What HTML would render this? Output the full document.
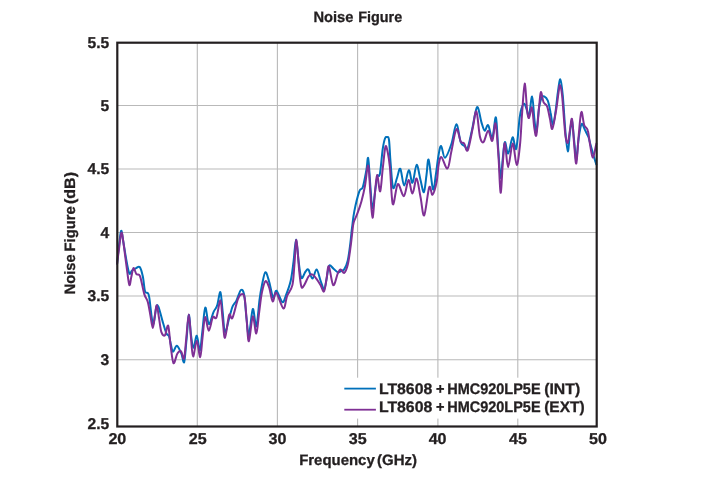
<!DOCTYPE html>
<html lang="en">
<head>
<meta charset="utf-8">
<title>Noise Figure</title>
<style>
html,body{margin:0;padding:0;background:#fff;}
body{width:704px;height:477px;overflow:hidden;}
svg{display:block;}
text{font-family:"Liberation Sans",sans-serif;font-weight:bold;font-size:15px;fill:#231f20;stroke:#231f20;stroke-width:0.3px;text-rendering:geometricPrecision;}
.lg text{font-size:15.3px;}
.yl text,.xl text{font-size:15.6px;}
.grid line{stroke:#b9b9b9;stroke-width:1.1;}
</style>
</head>
<body>
<svg width="704" height="477" viewBox="0 0 704 477">
<rect x="0" y="0" width="704" height="477" fill="#fff"/>
<g class="grid"><line x1="197.3" y1="42.7" x2="197.3" y2="426.5"/><line x1="277.4" y1="42.7" x2="277.4" y2="426.5"/><line x1="357.6" y1="42.7" x2="357.6" y2="426.5"/><line x1="437.9" y1="42.7" x2="437.9" y2="426.5"/><line x1="517.8" y1="42.7" x2="517.8" y2="426.5"/><line x1="117.3" y1="105.45" x2="596.7" y2="105.45"/><line x1="117.3" y1="169.0" x2="596.7" y2="169.0"/><line x1="117.3" y1="232.45" x2="596.7" y2="232.45"/><line x1="117.3" y1="296.0" x2="596.7" y2="296.0"/><line x1="117.3" y1="359.7" x2="596.7" y2="359.7"/></g>
<rect x="340" y="377.7" width="256" height="40.9" fill="#fff"/>
<path d="M117.0,264.5C117.3,261.4 118.3,251.6 119.0,246.0C119.7,240.4 120.4,231.8 121.1,230.8C121.8,229.8 122.2,235.5 123.0,240.0C123.8,244.5 125.0,252.4 126.0,258.0C127.0,263.6 128.3,271.3 129.3,273.4C130.3,275.5 130.9,271.3 132.0,270.5C133.1,269.7 134.4,269.0 135.7,268.4C137.0,267.8 138.5,265.7 139.7,267.0C140.9,268.3 141.9,272.3 142.8,276.3C143.7,280.3 144.2,288.4 145.0,291.2C145.8,294.0 147.1,292.0 147.8,293.1C148.5,294.2 148.4,292.6 149.3,297.7C150.2,302.8 151.8,322.4 153.0,324.0C154.2,325.6 155.4,309.9 156.3,307.0C157.2,304.1 157.4,304.3 158.5,306.8C159.6,309.3 161.5,317.7 162.8,322.1C164.1,326.6 165.4,331.2 166.4,333.5C167.4,335.8 168.2,334.1 169.0,336.0C169.8,337.9 170.3,342.4 171.0,345.0C171.7,347.6 172.1,351.7 173.1,351.8C174.1,351.9 175.4,345.4 176.8,345.7C178.2,346.0 180.2,350.8 181.4,353.5C182.6,356.2 183.3,364.4 184.2,362.1C185.0,359.9 185.7,347.9 186.5,340.0C187.3,332.1 188.1,315.8 188.8,315.0C189.6,314.2 190.2,329.5 191.0,335.0C191.8,340.5 192.5,347.7 193.5,347.8C194.5,347.9 195.7,335.2 196.8,335.7C197.9,336.2 199.0,351.6 199.9,350.6C200.8,349.7 201.6,337.2 202.5,330.0C203.4,322.8 204.2,308.6 205.3,307.6C206.4,306.6 207.4,323.2 208.8,324.0C210.2,324.8 212.1,315.2 213.5,312.1C214.9,309.1 215.9,309.0 217.1,305.7C218.2,302.4 219.5,291.1 220.4,292.1C221.3,293.2 221.9,305.4 222.7,312.0C223.5,318.6 223.8,331.2 225.0,332.0C226.2,332.8 228.3,320.8 229.6,316.5C230.9,312.2 231.5,309.0 232.6,306.4C233.7,303.8 235.0,303.4 236.4,300.7C237.8,298.0 239.6,290.9 240.9,290.0C242.2,289.1 243.3,290.3 244.2,295.0C245.1,299.7 245.7,311.3 246.5,318.0C247.3,324.7 247.8,336.5 248.9,335.0C250.0,333.5 251.6,310.4 252.8,309.0C254.0,307.6 255.2,327.9 256.3,326.4C257.4,324.9 258.6,306.9 259.5,300.0C260.4,293.1 261.0,289.6 262.0,285.0C263.0,280.4 264.2,272.7 265.4,272.2C266.6,271.7 268.0,277.9 269.3,282.2C270.6,286.5 272.0,296.4 273.2,297.8C274.4,299.2 274.9,290.0 276.4,290.7C277.9,291.4 280.8,301.2 282.3,302.1C283.9,303.0 284.3,299.6 285.7,296.0C287.1,292.4 289.4,286.5 290.7,280.8C292.0,275.1 292.6,268.9 293.5,262.0C294.4,255.1 295.2,239.4 296.1,239.4C297.0,239.4 297.8,255.6 298.7,262.0C299.6,268.4 300.2,276.3 301.4,277.9C302.5,279.5 304.4,272.9 305.6,271.5C306.8,270.1 307.4,268.6 308.5,269.8C309.6,271.0 311.1,278.7 312.5,278.6C313.9,278.5 315.2,269.0 316.6,269.4C318.0,269.8 319.3,277.5 320.6,280.8C321.9,284.1 323.2,289.8 324.2,289.3C325.2,288.8 325.9,281.9 326.7,278.0C327.5,274.1 328.1,267.4 329.2,265.8C330.3,264.2 332.1,267.6 333.5,268.7C334.9,269.8 336.4,271.8 337.7,272.2C338.9,272.6 339.9,271.5 341.0,271.0C342.1,270.5 343.1,271.1 344.2,269.4C345.3,267.7 346.7,265.1 347.7,260.8C348.7,256.5 349.6,249.2 350.3,243.7C351.0,238.2 351.3,233.4 352.0,228.0C352.7,222.6 353.1,217.5 354.3,211.4C355.5,205.3 357.9,195.5 359.3,191.4C360.7,187.3 361.6,190.7 362.8,187.1C364.0,183.5 365.5,174.8 366.4,170.0C367.3,165.2 367.5,155.7 368.2,158.2C368.9,160.7 369.6,176.7 370.3,185.0C371.0,193.3 371.6,207.5 372.5,208.0C373.4,208.5 374.7,193.3 375.5,188.0C376.3,182.7 376.8,178.3 377.5,176.0C378.2,173.7 379.0,178.5 379.9,173.9C380.8,169.3 381.9,154.4 382.8,148.5C383.7,142.6 384.3,140.4 385.0,138.5C385.7,136.6 386.4,136.8 387.1,137.1C387.8,137.3 388.4,135.7 389.0,140.0C389.6,144.3 389.9,154.8 390.6,162.8C391.3,170.8 392.0,185.3 393.1,187.8C394.2,190.3 395.8,181.2 397.0,178.0C398.2,174.8 399.1,167.5 400.3,168.8C401.5,170.1 402.8,185.4 404.2,185.6C405.6,185.8 407.4,170.7 408.8,170.2C410.2,169.7 411.2,183.7 412.5,182.8C413.8,181.9 415.3,165.4 416.6,164.9C417.9,164.4 419.3,175.5 420.5,180.0C421.7,184.5 422.9,192.9 423.9,192.1C424.9,191.3 425.7,180.4 426.5,175.0C427.3,169.6 427.6,157.5 428.7,159.9C429.8,162.3 431.8,186.8 433.0,189.3C434.2,191.8 434.9,180.6 435.8,175.0C436.7,169.4 437.5,160.8 438.4,156.0C439.3,151.2 440.0,145.6 441.1,145.9C442.2,146.2 443.3,158.0 445.0,157.7C446.7,157.4 449.5,149.6 451.4,144.0C453.3,138.4 454.8,124.5 456.4,124.2C457.9,123.9 459.3,138.4 460.7,142.1C462.1,145.8 463.8,145.3 464.9,146.4C466.0,147.5 466.3,151.2 467.5,148.5C468.7,145.8 470.4,136.9 472.0,130.0C473.6,123.1 475.5,108.4 477.1,107.1C478.7,105.8 480.1,118.2 481.4,122.1C482.6,126.0 483.5,130.2 484.6,130.7C485.7,131.2 486.9,124.0 488.2,125.2C489.5,126.4 491.0,139.1 492.3,137.8C493.6,136.5 494.9,115.5 495.9,117.5C496.9,119.5 497.5,139.9 498.3,150.0C499.1,160.1 499.9,176.5 500.6,177.8C501.4,179.1 502.1,164.0 502.8,158.0C503.5,152.0 504.0,142.8 504.9,142.0C505.8,141.2 506.9,154.3 508.2,153.5C509.5,152.7 511.3,138.1 512.6,137.3C513.9,136.5 515.0,151.9 516.2,148.7C517.4,145.5 518.7,124.7 519.6,118.0C520.5,111.3 520.7,110.9 521.5,108.5C522.3,106.1 523.4,103.5 524.3,103.7C525.2,104.0 526.0,108.0 526.8,110.0C527.6,112.0 528.1,118.3 529.0,116.0C529.9,113.7 531.2,96.1 532.1,96.4C533.0,96.7 533.6,112.1 534.3,118.0C535.0,123.9 535.6,133.7 536.4,132.0C537.2,130.3 538.1,113.7 539.0,108.0C539.9,102.3 540.6,99.9 541.5,98.0C542.4,96.1 543.2,96.0 544.2,96.4C545.2,96.9 546.7,98.0 547.8,100.7C548.9,103.4 549.8,108.8 550.6,112.8C551.5,116.8 552.1,125.1 552.9,125.0C553.7,124.9 554.7,117.4 555.5,112.0C556.3,106.6 557.0,98.2 557.8,92.8C558.6,87.3 559.5,78.8 560.3,79.3C561.1,79.8 562.0,87.2 562.8,95.7C563.6,104.2 564.5,120.7 565.3,130.0C566.1,139.3 567.0,151.1 567.8,151.4C568.6,151.7 569.3,137.1 570.0,132.0C570.7,126.9 571.3,119.3 572.0,121.0C572.7,122.7 573.6,135.5 574.3,142.0C575.0,148.5 575.6,160.7 576.3,160.0C577.0,159.3 577.8,144.0 578.7,138.0C579.6,132.0 580.6,125.3 581.6,124.0C582.6,122.7 583.8,127.7 584.9,129.9C586.0,132.1 587.4,134.5 588.4,137.0C589.4,139.5 589.6,141.4 590.6,144.9C591.6,148.4 593.2,154.5 594.2,157.8C595.2,161.2 596.1,163.8 596.5,165.0" fill="none" stroke="#0070ba" stroke-width="2" stroke-linejoin="round" stroke-linecap="butt"/>
<path d="M117.0,264.5C117.3,261.9 118.3,254.3 119.0,249.0C119.7,243.7 120.7,233.7 121.4,232.7C122.2,231.7 122.7,237.4 123.5,243.0C124.3,248.6 125.5,259.0 126.5,266.0C127.5,273.0 128.5,283.0 129.3,284.8C130.1,286.6 130.6,279.8 131.3,277.0C132.0,274.2 132.7,268.5 133.5,268.0C134.3,267.5 135.3,272.8 136.4,274.1C137.5,275.5 138.7,272.8 140.0,276.1C141.3,279.4 143.0,289.8 144.3,294.1C145.6,298.4 146.8,298.2 147.8,301.9C148.8,305.5 149.7,311.7 150.5,316.0C151.3,320.3 152.1,327.9 152.8,327.9C153.5,327.9 154.1,319.8 154.8,316.0C155.5,312.2 156.1,304.9 156.8,305.2C157.5,305.5 158.2,313.5 159.0,318.0C159.8,322.5 160.4,329.2 161.4,332.1C162.4,335.0 163.9,336.3 165.0,335.2C166.1,334.1 167.2,323.8 168.2,325.7C169.1,327.6 169.8,340.1 170.7,346.4C171.6,352.6 172.4,362.0 173.5,363.2C174.6,364.4 176.1,355.5 177.4,353.5C178.7,351.5 180.0,350.6 181.1,351.4C182.2,352.2 183.1,360.7 184.0,358.5C184.9,356.3 185.5,345.4 186.3,338.0C187.1,330.6 188.0,314.3 188.8,314.3C189.6,314.3 190.3,331.0 191.0,338.0C191.7,345.0 192.1,355.9 193.1,356.4C194.1,356.8 195.6,340.6 196.8,340.7C198.0,340.8 199.2,357.6 200.2,357.1C201.1,356.7 201.7,344.7 202.5,338.0C203.3,331.3 204.0,318.3 205.1,317.1C206.2,315.9 207.5,330.7 208.8,330.7C210.1,330.7 211.5,319.5 212.8,317.3C214.1,315.1 215.1,320.3 216.4,317.5C217.7,314.7 219.4,300.0 220.4,300.4C221.4,300.8 221.9,313.8 222.7,320.0C223.5,326.2 223.9,338.6 225.0,337.8C226.1,337.0 227.9,318.3 229.1,315.0C230.3,311.7 230.9,320.6 232.4,318.0C233.9,315.4 236.3,303.2 237.8,299.3C239.3,295.4 240.3,294.6 241.4,294.3C242.5,294.1 243.7,293.2 244.6,297.8C245.5,302.4 246.1,314.8 246.8,322.0C247.5,329.2 247.9,342.2 248.9,341.3C249.9,340.4 251.6,317.7 252.8,316.4C254.0,315.1 255.2,334.2 256.3,333.5C257.4,332.8 258.2,318.9 259.2,312.0C260.1,305.1 260.9,297.2 262.0,292.1C263.1,287.0 264.4,281.9 265.6,281.2C266.8,280.5 268.1,284.5 269.3,287.9C270.5,291.3 271.5,300.6 272.7,301.4C273.9,302.2 274.5,291.6 276.3,292.8C278.1,294.0 281.6,308.0 283.4,308.5C285.2,309.0 285.6,299.9 287.1,296.0C288.6,292.1 291.2,290.3 292.4,285.1C293.6,279.9 293.7,272.5 294.4,265.0C295.1,257.5 295.6,239.1 296.4,240.1C297.2,241.1 298.4,263.0 299.2,270.8C300.0,278.6 300.6,284.4 301.4,286.8C302.2,289.2 303.0,286.8 304.2,285.1C305.4,283.4 307.2,278.3 308.5,276.5C309.8,274.7 310.8,274.0 312.1,274.4C313.4,274.8 314.9,276.8 316.3,278.6C317.7,280.4 319.3,283.0 320.6,285.1C321.9,287.2 322.9,292.4 323.9,291.5C324.9,290.6 325.6,284.2 326.4,280.0C327.2,275.8 327.7,265.3 328.8,266.2C329.9,267.1 331.7,283.9 333.2,285.1C334.7,286.3 336.5,276.2 337.7,273.6C338.9,271.0 339.5,269.5 340.6,269.4C341.7,269.3 343.0,273.6 344.2,272.9C345.4,272.2 346.6,269.5 347.7,265.1C348.8,260.7 349.9,251.8 350.6,246.5C351.4,241.2 351.7,236.9 352.2,233.0C352.7,229.1 352.8,225.9 353.6,222.8C354.4,219.7 355.8,217.8 357.1,214.2C358.4,210.6 360.1,206.2 361.4,201.4C362.7,196.7 363.9,191.7 365.0,185.7C366.1,179.7 367.3,164.5 368.2,165.6C369.1,166.7 369.6,183.3 370.3,192.0C371.0,200.7 371.7,217.5 372.5,217.8C373.3,218.1 374.1,201.1 374.9,194.0C375.7,186.9 376.2,175.4 377.1,175.0C378.0,174.6 379.2,192.6 380.2,191.4C381.1,190.2 381.9,175.4 382.8,168.0C383.7,160.6 384.6,149.5 385.4,146.8C386.2,144.1 386.9,148.6 387.7,152.0C388.4,155.4 389.0,158.4 389.9,167.1C390.8,175.8 391.5,201.4 392.8,204.2C394.1,207.0 396.0,185.4 397.8,184.1C399.6,182.8 402.1,196.8 403.9,196.1C405.7,195.4 407.1,180.4 408.5,180.0C409.9,179.6 411.1,193.8 412.5,193.5C413.9,193.2 415.3,177.9 416.6,178.5C417.9,179.1 419.2,190.8 420.5,197.0C421.8,203.2 422.8,217.0 424.2,215.4C425.6,213.8 427.8,190.9 429.2,187.4C430.6,183.9 431.3,195.6 432.5,194.7C433.7,193.8 435.6,187.0 436.6,182.1C437.6,177.2 437.8,169.2 438.6,165.0C439.4,160.8 439.9,156.5 441.4,157.1C442.9,157.7 445.8,169.5 447.5,168.5C449.2,167.5 449.9,157.9 451.4,151.3C452.9,144.8 454.8,130.8 456.4,129.2C457.9,127.5 459.4,139.0 460.7,141.4C462.0,143.8 463.0,142.0 464.2,143.5C465.4,145.0 466.4,152.9 467.8,150.3C469.2,147.7 471.4,134.3 472.8,127.8C474.2,121.3 475.2,110.0 476.4,111.4C477.6,112.8 478.7,131.3 479.9,136.4C481.1,141.5 482.1,143.1 483.5,142.1C484.9,141.1 486.7,130.9 488.2,130.7C489.7,130.5 491.1,142.1 492.3,140.9C493.5,139.7 494.6,120.8 495.6,123.5C496.6,126.2 497.7,145.4 498.5,157.0C499.3,168.6 499.9,191.7 500.6,192.8C501.3,193.9 502.1,171.8 502.8,163.5C503.5,155.2 504.0,142.4 504.9,143.0C505.8,143.6 506.8,167.1 508.1,167.2C509.4,167.3 511.3,143.9 512.7,143.5C514.1,143.1 515.5,164.8 516.7,165.0C517.9,165.2 519.1,153.5 520.0,144.9C520.9,136.3 521.3,123.4 522.1,113.2C522.9,103.0 523.9,84.1 524.7,83.6C525.5,83.1 526.4,104.3 527.1,110.0C527.8,115.7 528.2,118.4 529.0,118.0C529.8,117.6 531.0,105.9 531.9,107.4C532.8,108.9 533.5,122.5 534.2,127.1C535.0,131.7 535.6,138.6 536.4,135.0C537.2,131.4 538.5,112.9 539.2,105.7C540.0,98.5 540.2,92.7 540.9,92.1C541.6,91.5 542.5,99.7 543.5,102.1C544.5,104.5 546.0,103.7 547.1,106.4C548.2,109.1 549.0,114.8 549.9,118.5C550.8,122.2 551.3,130.4 552.4,128.7C553.5,127.0 555.4,114.5 556.4,108.5C557.4,102.5 557.9,96.7 558.5,92.8C559.1,88.9 559.3,84.5 559.9,85.0C560.5,85.5 561.4,89.5 562.1,95.7C562.8,101.9 563.6,115.1 564.2,122.0C564.8,128.9 565.0,133.6 565.6,137.1C566.2,140.6 567.1,144.0 567.8,142.8C568.5,141.6 569.3,133.9 570.0,130.0C570.7,126.0 571.3,116.6 572.0,119.1C572.7,121.6 573.5,137.5 574.2,144.9C574.9,152.3 575.6,164.7 576.3,163.5C577.0,162.3 577.7,146.4 578.5,137.8C579.3,129.2 580.3,114.2 581.3,112.1C582.2,110.0 583.1,122.0 584.2,125.0C585.3,128.0 586.8,127.2 587.7,130.3C588.7,133.4 589.1,139.0 589.9,143.5C590.7,148.0 591.7,157.1 592.7,157.5C593.7,157.9 595.3,148.1 595.9,145.7C596.5,143.3 596.4,143.4 596.5,143.0" fill="none" stroke="#7f3095" stroke-width="2" stroke-linejoin="round" stroke-linecap="butt"/>
<rect x="117.3" y="42.7" width="479.40000000000003" height="383.8" fill="none" stroke="#231f20" stroke-width="2.2"/>
<text x="313.4" y="22" textLength="40" lengthAdjust="spacingAndGlyphs">Noise</text>
<text x="358.2" y="22" textLength="44" lengthAdjust="spacingAndGlyphs">Figure</text>
<g class="yl"><text x="109.3" y="48.0" text-anchor="end">5.5</text><text x="109.3" y="111.0" text-anchor="end">5</text><text x="109.3" y="174.0" text-anchor="end">4.5</text><text x="109.3" y="238.0" text-anchor="end">4</text><text x="109.3" y="301.0" text-anchor="end">3.5</text><text x="109.3" y="365.0" text-anchor="end">3</text><text x="109.3" y="429.0" text-anchor="end">2.5</text></g>
<g class="xl"><text x="108.40" y="444" textLength="17.9" lengthAdjust="spacingAndGlyphs">20</text><text x="188.70" y="444" textLength="17.9" lengthAdjust="spacingAndGlyphs">25</text><text x="268.50" y="444" textLength="17.9" lengthAdjust="spacingAndGlyphs">30</text><text x="348.85" y="444" textLength="17.9" lengthAdjust="spacingAndGlyphs">35</text><text x="428.65" y="444" textLength="17.9" lengthAdjust="spacingAndGlyphs">40</text><text x="508.95" y="444" textLength="17.9" lengthAdjust="spacingAndGlyphs">45</text><text x="589.10" y="444" textLength="17.9" lengthAdjust="spacingAndGlyphs">50</text></g>
<text x="299.2" y="465" textLength="75.5" lengthAdjust="spacingAndGlyphs">Frequency</text>
<text x="377" y="465" textLength="40" lengthAdjust="spacingAndGlyphs">(GHz)</text>
<g transform="translate(74.9,0) rotate(-90)">
<text x="-294.3" y="0" textLength="40" lengthAdjust="spacingAndGlyphs">Noise</text>
<text x="-251.6" y="0" textLength="45.5" lengthAdjust="spacingAndGlyphs">Figure</text>
<text x="-204" y="0" textLength="32" lengthAdjust="spacingAndGlyphs">(dB)</text>
</g>
<line x1="344.3" y1="388.6" x2="375.9" y2="388.6" stroke="#0070ba" stroke-width="1.8"/>
<line x1="344.3" y1="409.7" x2="375.9" y2="409.7" stroke="#7f3095" stroke-width="1.8"/>
<g class="lg">
<text x="378.9" y="394" textLength="53.4" lengthAdjust="spacingAndGlyphs">LT8608</text>
<text x="436" y="394" textLength="8.5" lengthAdjust="spacingAndGlyphs">+</text>
<text x="447.2" y="394" textLength="93.4" lengthAdjust="spacingAndGlyphs">HMC920LP5E</text>
<text x="544.2" y="394" textLength="36" lengthAdjust="spacingAndGlyphs">(INT)</text>
<text x="378.9" y="412" textLength="53.4" lengthAdjust="spacingAndGlyphs">LT8608</text>
<text x="436" y="412" textLength="8.5" lengthAdjust="spacingAndGlyphs">+</text>
<text x="447.2" y="412" textLength="93.4" lengthAdjust="spacingAndGlyphs">HMC920LP5E</text>
<text x="544.2" y="412" textLength="40.6" lengthAdjust="spacingAndGlyphs">(EXT)</text>
</g>
</svg>
</body>
</html>
